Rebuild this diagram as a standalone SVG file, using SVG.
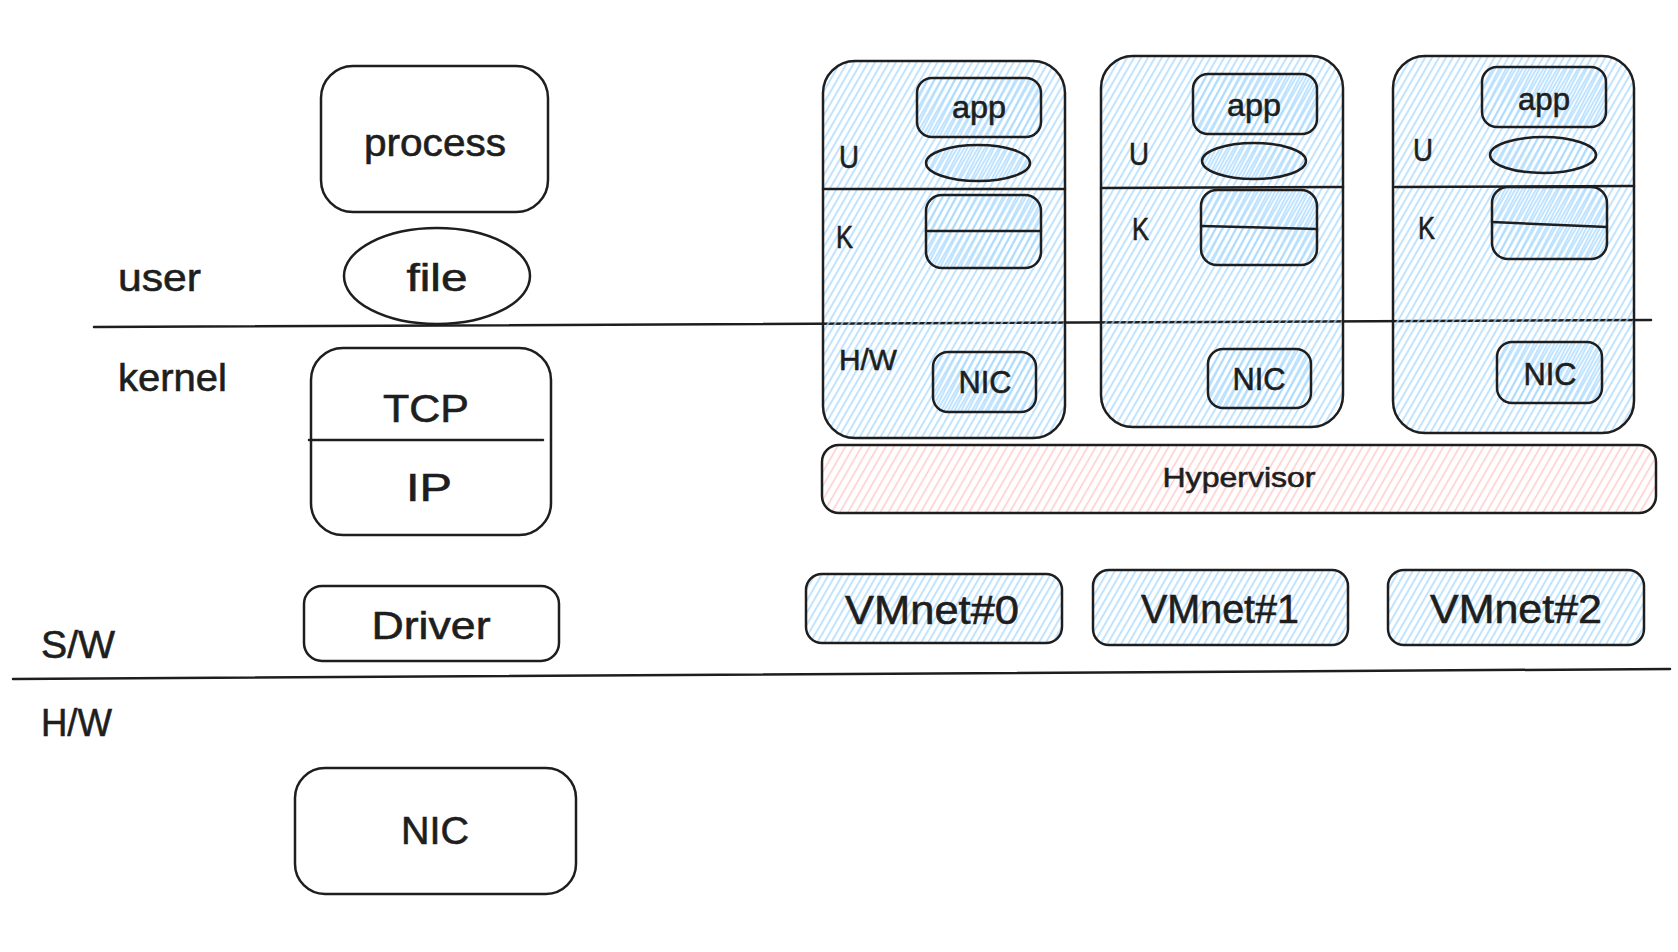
<svg xmlns="http://www.w3.org/2000/svg" width="1678" height="952" viewBox="0 0 1678 952">
<defs>
<pattern id="hb" patternUnits="userSpaceOnUse" width="6" height="10" patternTransform="rotate(30)">
<line x1="3" y1="0" x2="3" y2="10" stroke="#a5d8ff" stroke-width="1.4"/>
</pattern>
<pattern id="hb2" patternUnits="userSpaceOnUse" x="2" width="6" height="10" patternTransform="rotate(27)">
<line x1="3" y1="0" x2="3" y2="10" stroke="#a5d8ff" stroke-width="1.4"/>
</pattern>
<pattern id="hr" patternUnits="userSpaceOnUse" width="7" height="10" patternTransform="rotate(30)">
<line x1="3.5" y1="0" x2="3.5" y2="10" stroke="#ffc9c9" stroke-width="1.5"/>
</pattern>
</defs>
<style>
.s{fill:none;stroke:#1e1e1e;stroke-width:2.5;stroke-linecap:round;stroke-linejoin:round}
.w{fill:#ffffff;stroke:#1e1e1e;stroke-width:2.5}
.b{fill:url(#hb);stroke:#1e1e1e;stroke-width:2.5}
.b2{fill:url(#hb2);stroke:#1e1e1e;stroke-width:2.5}
.r{fill:url(#hr);stroke:#1e1e1e;stroke-width:2.5}
.t{font-family:"Liberation Sans",Arial,sans-serif;fill:#1e1e1e;stroke:#1e1e1e;stroke-width:0.6}
.L{font-size:38px}
.m{text-anchor:middle}
.sm{font-size:32px}
</style>
<rect width="1678" height="952" fill="#ffffff"/>

<g id="separators">
<line class="s" x1="94" y1="327" x2="1651" y2="320"/>
<line class="s" x1="13" y1="679" x2="1670" y2="669"/>
</g>

<g id="label-user"><text class="t L" x="118" y="291" textLength="83" lengthAdjust="spacingAndGlyphs">user</text></g>
<g id="label-kernel"><text class="t L" x="118" y="391" textLength="109" lengthAdjust="spacingAndGlyphs">kernel</text></g>
<g id="label-sw"><text class="t L" x="41" y="658" textLength="74" lengthAdjust="spacingAndGlyphs">S/W</text></g>
<g id="label-hw"><text class="t L" x="41" y="736" textLength="71" lengthAdjust="spacingAndGlyphs">H/W</text></g>

<g id="process">
<rect class="w" x="321" y="66" width="227" height="146" rx="32"/>
<text class="t L m" x="435" y="156" textLength="142" lengthAdjust="spacingAndGlyphs">process</text>
</g>
<g id="file">
<ellipse class="w" cx="437" cy="276" rx="93" ry="48"/>
<text class="t L m" x="437" y="291" textLength="61" lengthAdjust="spacingAndGlyphs">file</text>
</g>
<g id="tcpip">
<rect class="w" x="311" y="348" width="240" height="187" rx="32"/>
<line class="s" x1="309" y1="440" x2="543" y2="440"/>
<text class="t L m" x="426" y="422" textLength="86" lengthAdjust="spacingAndGlyphs">TCP</text>
<text class="t L m" x="429" y="501" textLength="46" lengthAdjust="spacingAndGlyphs">IP</text>
</g>
<g id="driver">
<rect class="w" x="304" y="586" width="255" height="75" rx="18"/>
<text class="t L m" x="431" y="639" textLength="119" lengthAdjust="spacingAndGlyphs">Driver</text>
</g>
<g id="nic">
<rect class="w" x="295" y="768" width="281" height="126" rx="30"/>
<text class="t L m" x="435" y="844" textLength="68" lengthAdjust="spacingAndGlyphs">NIC</text>
</g>

<g id="vm0">
<rect class="b" x="823" y="61" width="242" height="377" rx="32"/>
<line class="s" x1="823" y1="189" x2="1065" y2="189"/>
<rect class="b2" x="917" y="78" width="124" height="59" rx="15"/>
<text class="t sm m" x="979" y="118" textLength="54" lengthAdjust="spacingAndGlyphs">app</text>
<text class="t sm" x="839" y="168" textLength="20" lengthAdjust="spacingAndGlyphs">U</text>
<ellipse class="b2" cx="978" cy="163" rx="52" ry="18"/>
<text class="t sm" x="836" y="248" textLength="17" lengthAdjust="spacingAndGlyphs">K</text>
<rect class="b2" x="926" y="195" width="115" height="73" rx="16"/>
<line class="s" x1="926" y1="231" x2="1041" y2="231"/>
<text class="t" style="font-size:30px" x="839" y="370" textLength="58" lengthAdjust="spacingAndGlyphs">H/W</text>
<rect class="b2" x="933" y="352" width="103" height="60" rx="15"/>
<text class="t sm m" x="985" y="393" textLength="53" lengthAdjust="spacingAndGlyphs">NIC</text>
</g>

<g id="vm1">
<rect class="b" x="1101" y="56" width="242" height="371" rx="32"/>
<line class="s" x1="1101" y1="188" x2="1343" y2="187"/>
<rect class="b2" x="1193" y="74" width="124" height="60" rx="15"/>
<text class="t sm m" x="1254" y="116" textLength="54" lengthAdjust="spacingAndGlyphs">app</text>
<text class="t sm" x="1129" y="165" textLength="20" lengthAdjust="spacingAndGlyphs">U</text>
<ellipse class="b2" cx="1254" cy="161" rx="52" ry="18"/>
<text class="t sm" x="1132" y="240" textLength="17" lengthAdjust="spacingAndGlyphs">K</text>
<rect class="b2" x="1201" y="190" width="116" height="75" rx="16"/>
<line class="s" x1="1201" y1="226" x2="1317" y2="229"/>
<rect class="b2" x="1208" y="349" width="103" height="59" rx="15"/>
<text class="t sm m" x="1259" y="390" textLength="53" lengthAdjust="spacingAndGlyphs">NIC</text>
</g>

<g id="vm2">
<rect class="b" x="1393" y="56" width="241" height="377" rx="32"/>
<line class="s" x1="1395" y1="187" x2="1634" y2="186"/>
<rect class="b2" x="1482" y="67" width="124" height="60" rx="15"/>
<text class="t sm m" x="1544" y="110" textLength="52" lengthAdjust="spacingAndGlyphs">app</text>
<text class="t sm" x="1413" y="161" textLength="20" lengthAdjust="spacingAndGlyphs">U</text>
<ellipse class="b2" cx="1543" cy="155" rx="53" ry="18"/>
<text class="t sm" x="1418" y="239" textLength="17" lengthAdjust="spacingAndGlyphs">K</text>
<rect class="b2" x="1492" y="187" width="115" height="72" rx="16"/>
<line class="s" x1="1492" y1="222" x2="1607" y2="227"/>
<rect class="b2" x="1497" y="342" width="105" height="61" rx="15"/>
<text class="t sm m" x="1550" y="385" textLength="53" lengthAdjust="spacingAndGlyphs">NIC</text>
</g>

<g id="hypervisor">
<rect class="r" x="822" y="445" width="834" height="68" rx="17"/>
<text class="t m" style="font-size:28px" x="1239" y="487" textLength="153" lengthAdjust="spacingAndGlyphs">Hypervisor</text>
</g>

<g id="vmnet0">
<rect class="b" x="806" y="574" width="256" height="69" rx="16"/>
<text class="t m" style="font-size:40px" x="932" y="624" textLength="174" lengthAdjust="spacingAndGlyphs">VMnet#0</text>
</g>
<g id="vmnet1">
<rect class="b" x="1093" y="570" width="255" height="75" rx="16"/>
<text class="t m" style="font-size:40px" x="1220" y="623" textLength="158" lengthAdjust="spacingAndGlyphs">VMnet#1</text>
</g>
<g id="vmnet2">
<rect class="b" x="1388" y="570" width="256" height="75" rx="16"/>
<text class="t m" style="font-size:40px" x="1516" y="623" textLength="172" lengthAdjust="spacingAndGlyphs">VMnet#2</text>
</g>
</svg>
